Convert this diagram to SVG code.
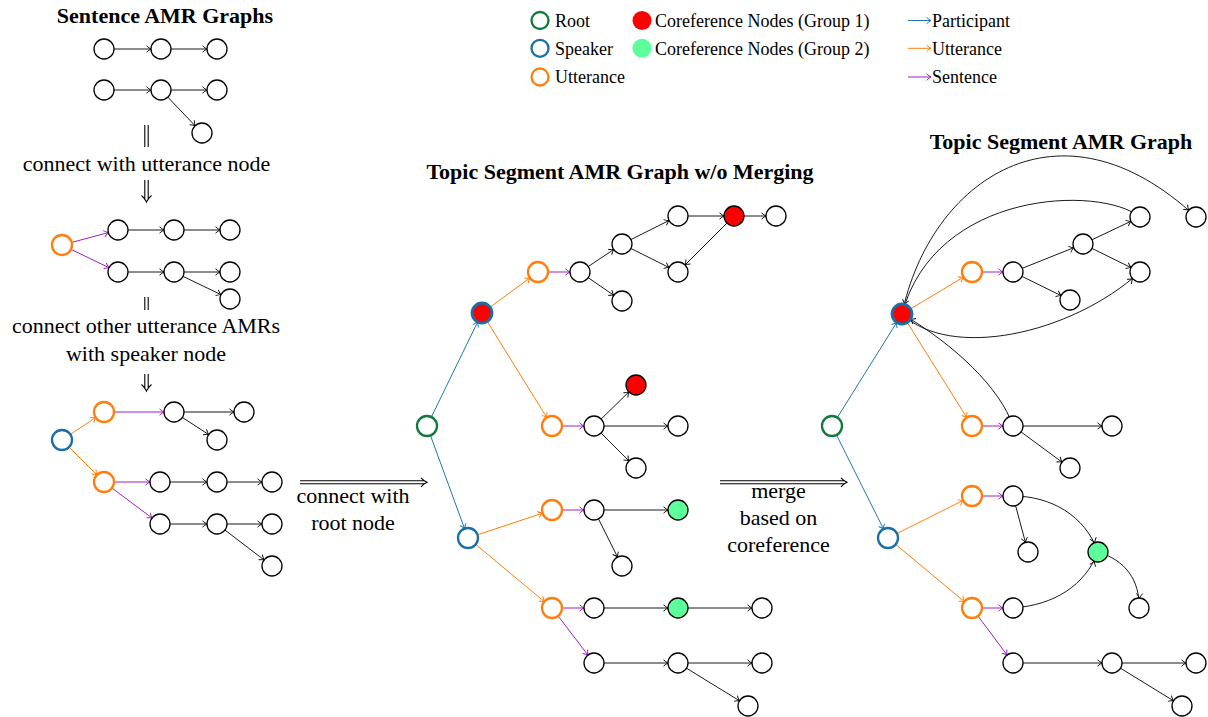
<svg xmlns="http://www.w3.org/2000/svg" width="1208" height="717" viewBox="0 0 1208 717">
<style>
text{font-family:'Liberation Serif','Times New Roman',Times,'DejaVu Serif',serif;fill:#000}
.t{font-size:22px;text-anchor:middle}
.h{font-size:22px;font-weight:bold;text-anchor:middle}
.l{font-size:18px}
.n{fill:#fff;stroke:#000;stroke-width:1.3}
.u{fill:#fff;stroke:#ff7f0e;stroke-width:2.3}
.s{fill:#fff;stroke:#1a6fa3;stroke-width:2.3}
.r{fill:#fff;stroke:#117a3b;stroke-width:2.3}
.sr{fill:#ff0000;stroke:#1a6fa3;stroke-width:2.8}
.cr{fill:#ff0000;stroke:#000;stroke-width:1.3}
.cg{fill:#5cff9a;stroke:#000;stroke-width:1.3}
.e{fill:none;stroke:#000;stroke-width:0.9;marker-end:url(#ak)}
.eo{fill:none;stroke:#ff7f0e;stroke-width:1;marker-end:url(#ao)}
.ep{fill:none;stroke:#a020c0;stroke-width:1;marker-end:url(#ap)}
.eb{fill:none;stroke:#1f77b4;stroke-width:1;marker-end:url(#ab)}
.dl{fill:none;stroke:#000;stroke-width:1.1}
</style>
<defs>
<marker id="ak" viewBox="-16 -5 20 10" refX="0" refY="0" markerWidth="20" markerHeight="10" markerUnits="userSpaceOnUse" orient="auto" overflow="visible"><path d="M-14.5,-3.2 Q-11.8,-0.8 -10,0 Q-11.8,0.8 -14.5,3.2" fill="none" stroke="#000" stroke-width="0.9"/></marker>
<marker id="ao" viewBox="-16 -5 20 10" refX="0" refY="0" markerWidth="20" markerHeight="10" markerUnits="userSpaceOnUse" orient="auto" overflow="visible"><path d="M-14.5,-3.2 Q-11.8,-0.8 -10,0 Q-11.8,0.8 -14.5,3.2" fill="none" stroke="#ff7f0e" stroke-width="1"/></marker>
<marker id="ap" viewBox="-16 -5 20 10" refX="0" refY="0" markerWidth="20" markerHeight="10" markerUnits="userSpaceOnUse" orient="auto" overflow="visible"><path d="M-14.5,-3.2 Q-11.8,-0.8 -10,0 Q-11.8,0.8 -14.5,3.2" fill="none" stroke="#a020c0" stroke-width="1"/></marker>
<marker id="ab" viewBox="-16 -5 20 10" refX="0" refY="0" markerWidth="20" markerHeight="10" markerUnits="userSpaceOnUse" orient="auto" overflow="visible"><path d="M-14.5,-3.2 Q-11.8,-0.8 -10,0 Q-11.8,0.8 -14.5,3.2" fill="none" stroke="#1f77b4" stroke-width="1"/></marker>
<marker id="lb" viewBox="-6 -5 8 10" refX="0" refY="0" markerWidth="8" markerHeight="10" markerUnits="userSpaceOnUse" orient="auto" overflow="visible"><path d="M-4.5,-3.2 Q-1.8,-0.8 0,0 Q-1.8,0.8 -4.5,3.2" fill="none" stroke="#1f77b4" stroke-width="1"/></marker>
<marker id="lo" viewBox="-6 -5 8 10" refX="0" refY="0" markerWidth="8" markerHeight="10" markerUnits="userSpaceOnUse" orient="auto" overflow="visible"><path d="M-4.5,-3.2 Q-1.8,-0.8 0,0 Q-1.8,0.8 -4.5,3.2" fill="none" stroke="#ff7f0e" stroke-width="1"/></marker>
<marker id="lp" viewBox="-6 -5 8 10" refX="0" refY="0" markerWidth="8" markerHeight="10" markerUnits="userSpaceOnUse" orient="auto" overflow="visible"><path d="M-4.5,-3.2 Q-1.8,-0.8 0,0 Q-1.8,0.8 -4.5,3.2" fill="none" stroke="#a020c0" stroke-width="1"/></marker>
</defs>
<rect width="1208" height="717" fill="#fff"/>

<g id="legend">
<circle class="r" cx="540" cy="20.5" r="8.5"/><text class="l" x="555" y="27">Root</text>
<circle class="s" cx="540" cy="48.3" r="8.5"/><text class="l" x="555" y="54.5">Speaker</text>
<circle class="u" cx="540" cy="77" r="8.5"/><text class="l" x="555" y="83">Utterance</text>
<circle cx="642" cy="20.5" r="9.5" fill="#ff0000"/><text class="l" x="655" y="27">Coreference Nodes (Group 1)</text>
<circle cx="642" cy="48.3" r="9.5" fill="#5cff9a"/><text class="l" x="655" y="54.5">Coreference Nodes (Group 2)</text>
<line x1="908" y1="20.5" x2="931" y2="20.5" stroke="#1f77b4" stroke-width="1" marker-end="url(#lb)"/><text class="l" x="932" y="27">Participant</text>
<line x1="908" y1="48.3" x2="931" y2="48.3" stroke="#ff7f0e" stroke-width="1" marker-end="url(#lo)"/><text class="l" x="932" y="54.5">Utterance</text>
<line x1="908" y1="77" x2="931" y2="77" stroke="#a020c0" stroke-width="1" marker-end="url(#lp)"/><text class="l" x="932" y="83">Sentence</text>
</g>

<g id="labels">
<text class="h" x="165" y="23">Sentence AMR Graphs</text>
<text class="t" x="146.5" y="171">connect with utterance node</text>
<text class="t" x="146" y="333">connect other utterance AMRs</text>
<text class="t" x="146" y="361">with speaker node</text>
<text class="t" x="353" y="503">connect with</text>
<text class="t" x="353" y="530">root node</text>
<text class="h" x="620" y="179">Topic Segment AMR Graph w/o Merging</text>
<text class="t" x="778.5" y="498">merge</text>
<text class="t" x="778.5" y="525">based on</text>
<text class="t" x="778.5" y="552">coreference</text>
<text class="h" x="1061" y="149">Topic Segment AMR Graph</text>
</g>

<g id="transitions">
<path class="dl" d="M144.8,125 V147 M148.2,125 V147"/>
<path class="dl" d="M144.8,180 V200 M148.2,180 V200 M141.5,195.5 Q145,198.5 146.5,202 Q148,198.5 151.5,195.5"/>
<path class="dl" d="M144.8,297 V310 M148.2,297 V310"/>
<path class="dl" d="M144.8,374 V389 M148.2,374 V389 M141.5,384.5 Q145,387.5 146.5,391 Q148,387.5 151.5,384.5"/>
<path class="dl" d="M300,480.8 H424 M300,483.8 H424 M421,477.8 Q424,481 427,482.3 Q424,483.6 421,486.8"/>
<path class="dl" d="M720,480.8 H844 M720,483.8 H844 M841,477.8 Q844,481 847,482.3 Q844,483.6 841,486.8"/>
</g>

<g id="connectors">
<line class="e" x1="104" y1="49" x2="161" y2="49"/>
<line class="e" x1="161" y1="49" x2="217" y2="49"/>
<line class="e" x1="104" y1="90" x2="161" y2="90"/>
<line class="e" x1="161" y1="90" x2="217" y2="90"/>
<line class="e" x1="161" y1="90" x2="202" y2="133"/>
<line class="ep" x1="62" y1="245" x2="118" y2="230"/>
<line class="ep" x1="62" y1="245" x2="118" y2="272"/>
<line class="e" x1="118" y1="230" x2="174" y2="230"/>
<line class="e" x1="174" y1="230" x2="230" y2="230"/>
<line class="e" x1="118" y1="272" x2="174" y2="272"/>
<line class="e" x1="174" y1="272" x2="230" y2="272"/>
<line class="e" x1="174" y1="272" x2="230" y2="299"/>
<line class="eo" x1="62" y1="440" x2="104" y2="412"/>
<line class="eo" x1="62" y1="440" x2="104" y2="482"/>
<line class="ep" x1="104" y1="412" x2="174" y2="412"/>
<line class="e" x1="174" y1="412" x2="244" y2="412"/>
<line class="e" x1="174" y1="412" x2="217" y2="440"/>
<line class="ep" x1="104" y1="482" x2="160" y2="482"/>
<line class="ep" x1="104" y1="482" x2="160" y2="524"/>
<line class="e" x1="160" y1="482" x2="217" y2="482"/>
<line class="e" x1="217" y1="482" x2="272" y2="482"/>
<line class="e" x1="160" y1="524" x2="217" y2="524"/>
<line class="e" x1="217" y1="524" x2="272" y2="524"/>
<line class="e" x1="217" y1="524" x2="272" y2="566"/>
<line class="eb" x1="427" y1="426" x2="482" y2="313"/>
<line class="eb" x1="427" y1="426" x2="468" y2="538"/>
<line class="eo" x1="482" y1="313" x2="538" y2="272"/>
<line class="eo" x1="482" y1="313" x2="552" y2="426"/>
<line class="ep" x1="538" y1="272" x2="580" y2="272"/>
<line class="e" x1="580" y1="272" x2="622" y2="244"/>
<line class="e" x1="580" y1="272" x2="622" y2="301"/>
<line class="e" x1="622" y1="244" x2="678" y2="216"/>
<line class="e" x1="622" y1="244" x2="678" y2="272"/>
<line class="e" x1="678" y1="216" x2="734" y2="216"/>
<line class="e" x1="734" y1="216" x2="776" y2="216"/>
<line class="e" x1="734" y1="216" x2="678" y2="272"/>
<line class="ep" x1="552" y1="426" x2="594" y2="426"/>
<line class="e" x1="594" y1="426" x2="636" y2="385"/>
<line class="e" x1="594" y1="426" x2="678" y2="426"/>
<line class="e" x1="594" y1="426" x2="636" y2="468"/>
<line class="eo" x1="468" y1="538" x2="552" y2="510"/>
<line class="eo" x1="468" y1="538" x2="552" y2="608"/>
<line class="ep" x1="552" y1="510" x2="594" y2="510"/>
<line class="e" x1="594" y1="510" x2="678" y2="510"/>
<line class="e" x1="594" y1="510" x2="622" y2="566"/>
<line class="ep" x1="552" y1="608" x2="594" y2="608"/>
<line class="ep" x1="552" y1="608" x2="594" y2="663"/>
<line class="e" x1="594" y1="608" x2="678" y2="608"/>
<line class="e" x1="678" y1="608" x2="762" y2="608"/>
<line class="e" x1="594" y1="663" x2="678" y2="663"/>
<line class="e" x1="678" y1="663" x2="762" y2="663"/>
<line class="e" x1="678" y1="663" x2="748" y2="706"/>
<line class="eb" x1="832" y1="426" x2="902" y2="314"/>
<line class="eb" x1="832" y1="426" x2="888" y2="538"/>
<line class="eo" x1="902" y1="314" x2="972" y2="272"/>
<line class="eo" x1="902" y1="314" x2="972" y2="426"/>
<line class="ep" x1="972" y1="272" x2="1013" y2="272"/>
<line class="e" x1="1013" y1="272" x2="1083" y2="244"/>
<line class="e" x1="1013" y1="272" x2="1070" y2="300"/>
<line class="e" x1="1083" y1="244" x2="1140" y2="217"/>
<line class="e" x1="1083" y1="244" x2="1140" y2="272"/>
<path class="e" d="M902,314 C930,180 1060,90 1196,217"/>
<path class="e" d="M1140,217 C1100,185 935,190 902,314"/>
<path class="e" d="M902,314 C950,360 1070,335 1140,272"/>
<path class="e" d="M1013,426 C1000,388 955,345 902,314"/>
<line class="ep" x1="972" y1="426" x2="1013" y2="426"/>
<line class="e" x1="1013" y1="426" x2="1112" y2="426"/>
<line class="e" x1="1013" y1="426" x2="1070" y2="468"/>
<line class="eo" x1="888" y1="538" x2="972" y2="496"/>
<line class="eo" x1="888" y1="538" x2="972" y2="608"/>
<line class="ep" x1="972" y1="496" x2="1013" y2="496"/>
<line class="e" x1="1013" y1="496" x2="1028" y2="552"/>
<path class="e" d="M1013,496 C1050,496 1085,515 1098,552"/>
<path class="e" d="M1013,608 C1055,605 1085,585 1098,552"/>
<path class="e" d="M1098,552 C1125,560 1140,580 1139,608"/>
<line class="ep" x1="972" y1="608" x2="1013" y2="608"/>
<line class="ep" x1="972" y1="608" x2="1013" y2="663"/>
<line class="e" x1="1013" y1="663" x2="1112" y2="663"/>
<line class="e" x1="1112" y1="663" x2="1196" y2="663"/>
<line class="e" x1="1112" y1="663" x2="1182" y2="706"/>
</g>

<g id="sentence-graphs">
<circle id="a1" class="n" cx="104" cy="49" r="10"/>
<circle id="a2" class="n" cx="161" cy="49" r="10"/>
<circle id="a3" class="n" cx="217" cy="49" r="10"/>
<circle id="a4" class="n" cx="104" cy="90" r="10"/>
<circle id="a5" class="n" cx="161" cy="90" r="10"/>
<circle id="a6" class="n" cx="217" cy="90" r="10"/>
<circle id="a7" class="n" cx="202" cy="133" r="10"/>
</g>
<g id="utterance-graph">
<circle id="b0" class="u" cx="62" cy="245" r="10"/>
<circle id="b1" class="n" cx="118" cy="230" r="10"/>
<circle id="b2" class="n" cx="174" cy="230" r="10"/>
<circle id="b3" class="n" cx="230" cy="230" r="10"/>
<circle id="b4" class="n" cx="118" cy="272" r="10"/>
<circle id="b5" class="n" cx="174" cy="272" r="10"/>
<circle id="b6" class="n" cx="230" cy="272" r="10"/>
<circle id="b7" class="n" cx="230" cy="299" r="10"/>
</g>
<g id="speaker-graph">
<circle id="c0" class="s" cx="62" cy="440" r="10"/>
<circle id="c1" class="u" cx="104" cy="412" r="10"/>
<circle id="c2" class="u" cx="104" cy="482" r="10"/>
<circle id="c3" class="n" cx="174" cy="412" r="10"/>
<circle id="c4" class="n" cx="244" cy="412" r="10"/>
<circle id="c5" class="n" cx="217" cy="440" r="10"/>
<circle id="c6" class="n" cx="160" cy="482" r="10"/>
<circle id="c7" class="n" cx="217" cy="482" r="10"/>
<circle id="c8" class="n" cx="272" cy="482" r="10"/>
<circle id="c9" class="n" cx="160" cy="524" r="10"/>
<circle id="c10" class="n" cx="217" cy="524" r="10"/>
<circle id="c11" class="n" cx="272" cy="524" r="10"/>
<circle id="c12" class="n" cx="272" cy="566" r="10"/>
</g>
<g id="graph-wo-merging">
<circle id="m0" class="r" cx="427" cy="426" r="10"/>
<circle id="m1" class="sr" cx="482" cy="313" r="10"/>
<circle id="m2" class="u" cx="538" cy="272" r="10"/>
<circle id="m3" class="n" cx="580" cy="272" r="10"/>
<circle id="m4" class="n" cx="622" cy="244" r="10"/>
<circle id="m5" class="n" cx="678" cy="216" r="10"/>
<circle id="m6" class="cr" cx="734" cy="216" r="10"/>
<circle id="m7" class="n" cx="776" cy="216" r="10"/>
<circle id="m8" class="n" cx="678" cy="272" r="10"/>
<circle id="m9" class="n" cx="622" cy="301" r="10"/>
<circle id="m10" class="u" cx="552" cy="426" r="10"/>
<circle id="m11" class="n" cx="594" cy="426" r="10"/>
<circle id="m12" class="cr" cx="636" cy="385" r="10"/>
<circle id="m13" class="n" cx="678" cy="426" r="10"/>
<circle id="m14" class="n" cx="636" cy="468" r="10"/>
<circle id="m15" class="s" cx="468" cy="538" r="10"/>
<circle id="m16" class="u" cx="552" cy="510" r="10"/>
<circle id="m17" class="n" cx="594" cy="510" r="10"/>
<circle id="m18" class="cg" cx="678" cy="510" r="10"/>
<circle id="m19" class="n" cx="622" cy="566" r="10"/>
<circle id="m20" class="u" cx="552" cy="608" r="10"/>
<circle id="m21" class="n" cx="594" cy="608" r="10"/>
<circle id="m22" class="cg" cx="678" cy="608" r="10"/>
<circle id="m23" class="n" cx="762" cy="608" r="10"/>
<circle id="m24" class="n" cx="594" cy="663" r="10"/>
<circle id="m25" class="n" cx="678" cy="663" r="10"/>
<circle id="m26" class="n" cx="762" cy="663" r="10"/>
<circle id="m27" class="n" cx="748" cy="706" r="10"/>
</g>
<g id="merged-graph">
<circle id="r0" class="r" cx="832" cy="426" r="10"/>
<circle id="r1" class="sr" cx="902" cy="314" r="10"/>
<circle id="r2" class="u" cx="972" cy="272" r="10"/>
<circle id="r3" class="n" cx="1013" cy="272" r="10"/>
<circle id="r4" class="n" cx="1083" cy="244" r="10"/>
<circle id="r5" class="n" cx="1140" cy="217" r="10"/>
<circle id="r6" class="n" cx="1140" cy="272" r="10"/>
<circle id="r7" class="n" cx="1070" cy="300" r="10"/>
<circle id="r8" class="n" cx="1196" cy="217" r="10"/>
<circle id="r9" class="u" cx="972" cy="426" r="10"/>
<circle id="r10" class="n" cx="1013" cy="426" r="10"/>
<circle id="r11" class="n" cx="1112" cy="426" r="10"/>
<circle id="r12" class="n" cx="1070" cy="468" r="10"/>
<circle id="r13" class="s" cx="888" cy="538" r="10"/>
<circle id="r14" class="u" cx="972" cy="496" r="10"/>
<circle id="r15" class="n" cx="1013" cy="496" r="10"/>
<circle id="r16" class="n" cx="1028" cy="552" r="10"/>
<circle id="r17" class="cg" cx="1098" cy="552" r="10"/>
<circle id="r18" class="n" cx="1139" cy="608" r="10"/>
<circle id="r19" class="u" cx="972" cy="608" r="10"/>
<circle id="r20" class="n" cx="1013" cy="608" r="10"/>
<circle id="r21" class="n" cx="1013" cy="663" r="10"/>
<circle id="r22" class="n" cx="1112" cy="663" r="10"/>
<circle id="r23" class="n" cx="1196" cy="663" r="10"/>
<circle id="r24" class="n" cx="1182" cy="706" r="10"/>
</g>
</svg>
